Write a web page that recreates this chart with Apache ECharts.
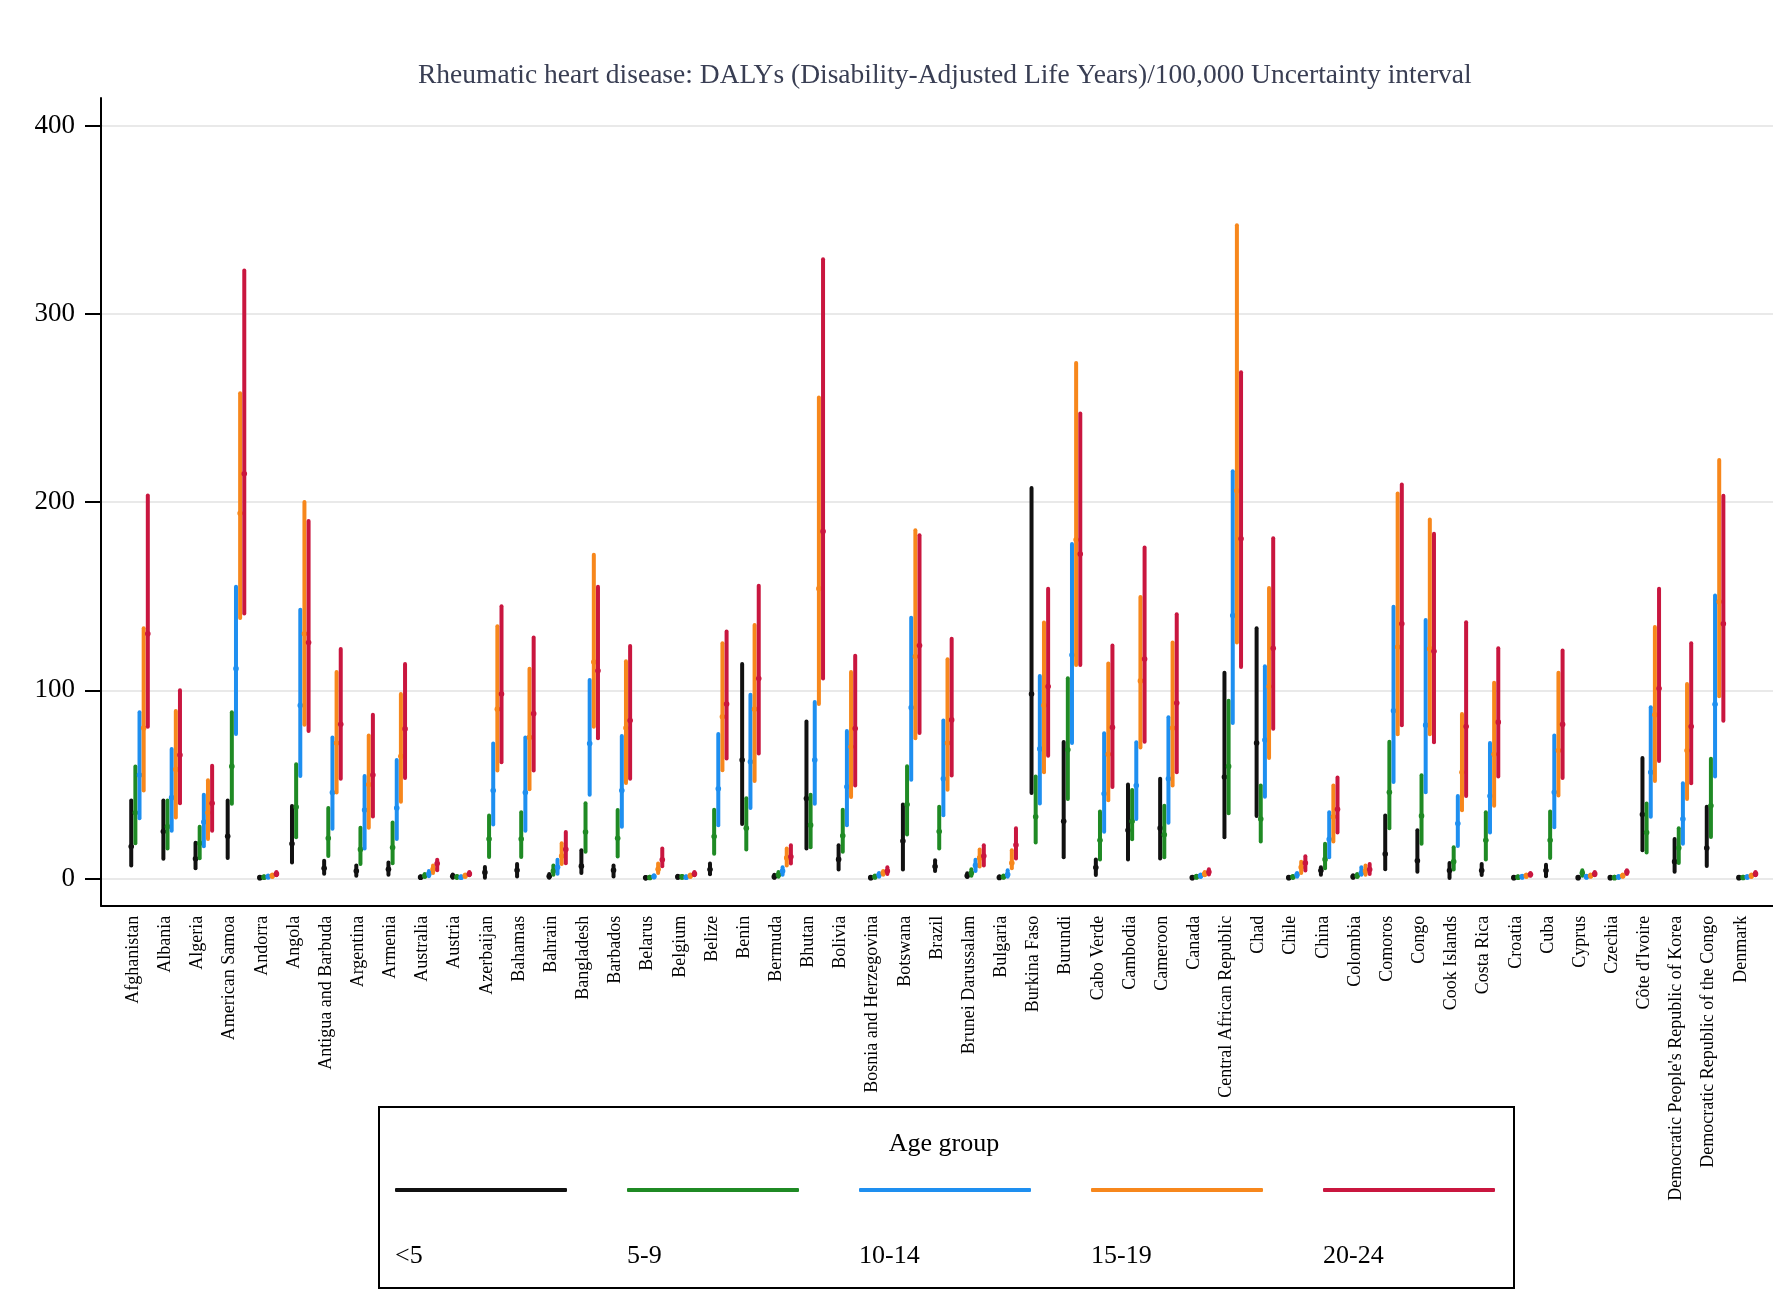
<!DOCTYPE html>
<html>
<head>
<meta charset="utf-8">
<script src="https://cdn.jsdelivr.net/npm/echarts@6/dist/echarts.min.js"></script>
<style>
html,body{margin:0;padding:0;background:#ffffff;}
#chart{width:1773px;height:1303px;}
</style>
</head>
<body>
<div id="chart"></div>
<script>
// ---------------- DATA ----------------
const countries = [
  "Afghanistan","Albania","Algeria","American Samoa","Andorra","Angola","Antigua and Barbuda",
  "Argentina","Armenia","Australia","Austria","Azerbaijan","Bahamas","Bahrain","Bangladesh",
  "Barbados","Belarus","Belgium","Belize","Benin","Bermuda","Bhutan","Bolivia",
  "Bosnia and Herzegovina","Botswana","Brazil","Brunei Darussalam","Bulgaria","Burkina Faso",
  "Burundi","Cabo Verde","Cambodia","Cameroon","Canada","Central African Republic","Chad",
  "Chile","China","Colombia","Comoros","Congo","Cook Islands","Costa Rica","Croatia","Cuba",
  "Cyprus","Czechia","Côte d'Ivoire","Democratic People's Republic of Korea",
  "Democratic Republic of the Congo","Denmark"
];
const ageGroups = ["<5","5-9","10-14","15-19","20-24"];

// <5
const lowLt5  = [7,10.5,5.5,11,0.2,8.5,2.6,1.5,2,0.3,0.5,0.5,1.1,0.5,3,1.1,0.2,0.5,2.3,29,0.4,16,4.8,0.2,4.8,4,0.8,0.3,45.4,11.4,1.9,10.2,10.7,0.2,22,33.3,0.2,2,0.5,5,3.6,0.3,1.9,0.2,1.2,0.2,0.2,15,3.6,6.7,0.2];
const highLt5 = [41.5,41.5,19,41.5,0.8,38.5,9.5,7,8.5,1.2,2.2,6.2,7.7,2.5,15,7,0.8,1.5,8,114,2,83.5,17.7,0.8,39.3,9.8,2.8,1.2,207.5,72.5,10.2,50,53,0.8,109.3,133,0.8,6,1.8,33.5,25.7,8.3,7.8,0.8,7.4,0.9,0.8,64,21,38.2,0.8];
const midLt5  = [17,25,10.5,22.5,0.5,18.5,5.5,4,5,0.7,1.2,3.3,4.4,1.2,6.6,4.4,0.4,0.9,4.8,63,1,42.5,10.2,0.5,20,6.4,1.5,0.6,98,30.4,5.9,25.7,26.8,0.5,54,72,0.5,4.3,1,13,9.5,4.3,4.3,0.5,4.3,0.5,0.5,34,9,16.2,0.5];

// 5-9
const low5to9  = [18.8,16,10.8,39.7,0.4,22,12,7.7,8.2,0.8,0.4,11.5,11.5,2,14.3,11.7,0.3,0.4,13.2,15.4,1,16.6,14.3,0.5,23.4,16,1.5,0.5,19.2,42.3,10.2,20.9,11.4,0.5,34.7,19.7,0.4,5.5,0.8,26.8,18.5,4.8,10.2,0.4,10.9,1.5,0.3,13.8,8.3,22.1,0.3];
const high5to9 = [59.6,41.5,27.6,88.3,1.2,60.7,37.5,27,29.8,2.4,1.4,33.5,35.3,7,40,36.4,1,1.4,36.6,42.7,3.5,44.5,36.6,1.6,59.7,38.2,5,1.6,54.2,106.4,35.6,47,38.7,1.5,94.5,49.4,1.4,18.5,2.4,72.7,54.9,16.6,35.2,1.2,35.6,4.5,1,39.9,26.8,63.7,1];
const mid5to9  = [35,27.6,18.8,59.6,0.7,38,21.4,15.5,16.5,1.5,0.8,21,21,4,24.7,21.4,0.6,0.9,22.3,26.8,2,28.4,22.7,1,39.3,25,3,1,32.8,68.4,20.4,30.4,23.3,1,59.6,31.6,0.8,10.2,1.5,45.8,33.3,9,20.4,0.7,20.4,3,0.5,24.5,16.2,38.7,0.6];

// 10-14
const low10to14  = [32,25.4,17.2,76.8,0.6,54.5,26.5,16,21,1.2,0.4,28.7,25.4,2.6,44.6,27.6,0.6,0.4,28.4,37.5,2,39.7,28.4,1,52.5,33.6,4,1,39.9,72,24.9,31.6,29.7,0.8,82.7,43.5,1,11.4,2,51.3,45.8,17.3,24.5,0.5,27.3,0.5,0.4,32.8,18.5,54.2,0.4];
const high10to14 = [88.3,68.9,44.6,155,1.6,142.8,75,54.5,63,4,1.2,71.7,75,10,105.5,75.7,1.8,1.2,76.8,97.7,6,93.8,78.4,3,138.5,84,10,4.5,107.6,177.7,77.2,72.4,85.7,2.2,216.4,112.8,3,35.2,6,144.4,137.3,43.9,72,1.5,76,1.5,1.3,91,50.6,150.4,1.2];
const mid10to14  = [55,43,30,111.5,1,92,45.7,36.4,37.5,2.5,0.7,46.8,45.7,6,71.7,46.8,1.1,0.7,47.7,62,4,63,48.8,2,90.8,53,7,2.2,68.9,118.8,45.1,49.4,53,1.5,139.7,73.6,2,20.9,3,89.1,81.5,29.2,43.9,1,45.8,1,0.8,56.5,31.6,92.6,0.8];

// 15-19
const low15to19  = [46.8,32.5,21,138.4,0.9,81.7,45.7,27,40.8,3,0.9,57.4,47.5,7.7,80.6,50.8,3,0.9,57.5,51.8,7,92.7,43.4,2,74.5,47.2,6.4,5.5,56.5,113.5,41.6,69.6,49.4,1.8,125.4,64.1,3,19.7,2,76.7,76.7,36.3,38.7,0.9,44.2,1,1,51.8,42.3,96.9,0.9];
const high15to19 = [133,89,52.3,257.8,2.2,200,109.7,76,98,7,2.2,134,111.5,18.8,172,115.4,8,2.2,125,134.7,16,255.5,109.7,4,185,116.5,15.4,15,136,273.9,114.3,149.6,125.4,3.5,347,154.4,9,49.4,7,204.5,190.7,87.4,104,2.2,109.3,2.2,2.2,133.7,103.3,222.3,2.2];
const mid15to19  = [80,58,35,194,1.5,130,72,50,65,5,1.5,90,75,12,115,80,5,1.5,86,90,11,154,70,3,118,72,11,8.3,92,180,66,105,80,2.5,206,102,6,32.8,4,123,122,56.5,66,1.5,68,1.5,1.5,87,68,147,1.5];

// 20-24
const low20to24  = [80.6,40,25.4,140.8,1.8,78.4,53,33,53.4,4.4,1.8,61.8,57.4,8.2,74.6,53,6.6,1.8,63.8,66.5,8,106.3,49.5,2.5,77.4,54.7,7,10.7,65.3,113.5,48.7,72.7,56.5,2.2,112.4,79.6,4.3,24.5,2.4,81.5,72.4,43.9,54.2,1.5,53.4,1.8,2.5,62.5,50.6,83.8,1.8];
const high20to24 = [203.5,100,60,323,3.5,190,122,87,114,10,3.5,144.6,128,24.7,155,123.6,16,3.5,131.3,155.6,17.7,329,118.3,6,182.4,127.4,17.7,26.8,154,247,123.8,175.8,140.4,5,269,180.8,11.9,53.7,7.8,209.3,183.1,136.1,122.3,3,121.1,3.5,4.5,154,125,203.3,3.5];
const mid20to24  = [130,65.6,40,215,2.5,125.4,82,55,79.5,8,2.5,98,87.6,15.5,110.4,84,10,2.5,92.7,106.3,11.6,184.4,79.7,4,123.8,84.3,12,17.8,102,172.4,80.3,116.6,93.3,3.5,180.5,122.3,8.3,36.8,4.8,135.4,120.7,80.8,83.1,2.2,81.9,2.5,3.5,101,80.8,135.4,2.5];

const yTicks = [0, 100, 200, 300, 400];

// ---------------- STYLE ----------------
const colors = ["#111111", "#1f8a24", "#1e8ff0", "#f7871c", "#c9163f"];
const offsets = [-0.06, 0.069, 0.198, 0.327, 0.456]; // horizontal offset of each age group within a country
const FONT = "Liberation Serif";

const lows  = [lowLt5, low5to9, low10to14, low15to19, low20to24];
const highs = [highLt5, high5to9, high10to14, high15to19, high20to24];
const mids  = [midLt5, mid5to9, mid10to14, mid15to19, mid20to24];

function makeRender(k) {
  return function (params, api) {
    const x = api.value(0) + offsets[k];
    const lo = api.coord([x, api.value(1)]);
    const hi = api.coord([x, api.value(2)]);
    const md = api.coord([x, api.value(3)]);
    const c = api.visual('color');
    return {
      type: 'group',
      children: [
        { type: 'line', shape: { x1: lo[0], y1: lo[1], x2: hi[0], y2: hi[1] },
          style: { stroke: c, lineWidth: 4, lineCap: 'round' } },
        { type: 'circle', shape: { cx: md[0], cy: md[1], r: 2.8 },
          style: { fill: c } }
      ]
    };
  };
}

const series = ageGroups.map(function (name, k) {
  return {
    name: name,
    type: 'custom',
    xAxisIndex: 0,
    yAxisIndex: 0,
    itemStyle: { color: colors[k] },
    renderItem: makeRender(k),
    encode: { x: 0, y: [1, 2, 3] },
    data: countries.map(function (c, i) { return [i, lows[k][i], highs[k][i], mids[k][i]]; }),
    z: 10 + k
  };
});

const chart = echarts.init(document.getElementById('chart'), null, { renderer: 'canvas' });

const option = {
  backgroundColor: '#ffffff',
  animation: false,
  textStyle: { fontFamily: FONT },
  title: {
    text: 'Rheumatic heart disease: DALYs (Disability-Adjusted Life Years)/100,000 Uncertainty interval',
    left: 418,
    top: 62,
    padding: 0,
    textStyle: { fontFamily: FONT, fontSize: 27.5, fontWeight: 'normal', color: '#393e53' }
  },
  grid: [
    { left: 101, width: 1673, top: 125.5, height: 753.1, containLabel: false },
    { left: 101, width: 1673, top: 98, height: 807.7, containLabel: false }
  ],
  xAxis: [
    { type: 'value', gridIndex: 0, min: -1, max: 51, show: false },
    {
      type: 'value', gridIndex: 1, min: -1, max: 51, interval: 1,
      axisLine: { show: true, onZero: false, lineStyle: { color: '#000', width: 2 } },
      axisTick: { show: false },
      splitLine: { show: false },
      axisLabel: {
        rotate: 90, margin: 10, fontFamily: FONT, fontSize: 18, color: '#000',
        formatter: function (v) { const i = Math.round(v); return (i >= 0 && i < countries.length) ? countries[i] : ''; }
      }
    }
  ],
  yAxis: [
    {
      type: 'value', gridIndex: 0, min: yTicks[0], max: yTicks[yTicks.length - 1], interval: 100,
      axisLine: { show: true, onZero: false, lineStyle: { color: '#000', width: 2 } },
      axisTick: { show: true, length: 16, lineStyle: { color: '#000', width: 2 } },
      axisLabel: { margin: 26, fontFamily: FONT, fontSize: 27, color: '#000' },
      splitLine: { show: true, lineStyle: { color: '#e9e9e9', width: 2 } }
    },
    {
      type: 'value', gridIndex: 1, min: 0, max: 1,
      axisLine: { show: true, onZero: false, lineStyle: { color: '#000', width: 2 } },
      axisTick: { show: false },
      axisLabel: { show: false },
      splitLine: { show: false }
    }
  ],
  legend: [
    {
      left: 395, top: 1188, padding: 0,
      orient: 'horizontal',
      itemWidth: 172, itemHeight: 4, itemGap: 60,
      icon: 'roundRect',
      data: ageGroups,
      formatter: function () { return ''; },
      textStyle: { fontSize: 1 }
    },
    {
      left: 389, top: 1241, padding: 0,
      orient: 'horizontal',
      itemWidth: 1, itemHeight: 1, itemGap: 0,
      itemStyle: { opacity: 0 },
      data: ageGroups,
      textStyle: { fontFamily: FONT, fontSize: 26, color: '#000', width: 226, lineHeight: 30 }
    }
  ],
  graphic: [
    {
      type: 'rect', left: 378, top: 1106, z: -1,
      shape: { width: 1135, height: 181 },
      style: { fill: '#fff', stroke: '#000', lineWidth: 2 }
    },
    {
      type: 'text', x: 944, y: 1144,
      style: { text: 'Age group', fontFamily: FONT, fontSize: 26, fill: '#000', textAlign: 'center', textVerticalAlign: 'middle' }
    }
  ],
  series: series
};

chart.setOption(option);
</script>
</body>
</html>
